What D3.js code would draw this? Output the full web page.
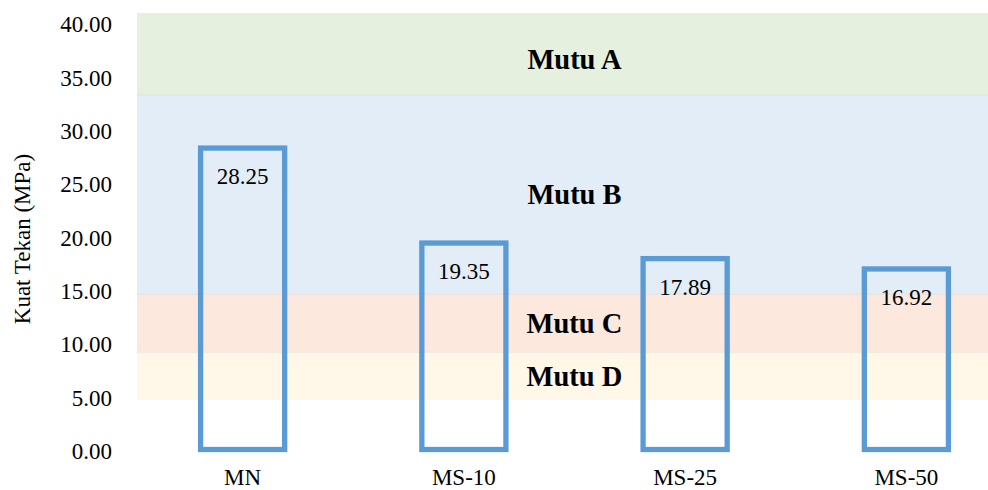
<!DOCTYPE html>
<html>
<head>
<meta charset="utf-8">
<script src="https://cdn.jsdelivr.net/npm/d3@7"></script>
<style>
  html, body { margin: 0; padding: 0; background: #fff; }
  svg { display: block; font-family: "Liberation Serif", "Times New Roman", serif; }
</style>
</head>
<body>
<svg id="chart" width="988" height="490"></svg>
<script>
// Compressive strength per mix
const categories = ["MN", "MS-10", "MS-25", "MS-50"];
const strength = [28.25, 19.35, 17.89, 16.92];

// Quality classes shown as horizontal background bands (MPa)
const gradeNames = ["Mutu D", "Mutu C", "Mutu B", "Mutu A"];
const gradeLow = [4.65, 9.1, 14.55, 33.25];
const gradeHigh = [9.1, 14.55, 33.25, 40.9];
const gradeColors = ["#fff7e7", "#fce8dd", "#e2edf7", "#e5f0df"];

const yTicks = [0, 5, 10, 15, 20, 25, 30, 35, 40];
const yTitle = "Kuat Tekan (MPa)";

const W = 988, H = 490;
const plotLeft = 137, plotRight = 988;

const svg = d3.select("#chart");

const y = d3.scaleLinear().domain([0, 40]).range([449.5, 22.7]);
const x = d3.scaleBand().domain(categories).range([132, 1017]).paddingInner(0.62).paddingOuter(0.31);

// Background bands
const bands = gradeNames.map((n, i) => ({ name: n, lo: gradeLow[i], hi: gradeHigh[i], color: gradeColors[i] }));

svg.append("g").selectAll("rect")
  .data(bands)
  .join("rect")
  .attr("x", plotLeft)
  .attr("width", plotRight - plotLeft)
  .attr("y", d => y(d.hi))
  .attr("height", d => y(d.lo) - y(d.hi))
  .attr("fill", d => d.color);

// faint separators between the bands
svg.append("g").selectAll("line")
  .data(bands.filter(d => d.name !== "Mutu A"))
  .join("line")
  .attr("x1", plotLeft).attr("x2", plotRight)
  .attr("y1", d => y(d.hi)).attr("y2", d => y(d.hi))
  .attr("stroke", "#000").attr("stroke-opacity", 0.035).attr("stroke-width", 1.5);

// Band labels at the middle of each band
const midX = (x.range()[0] + x.range()[1]) / 2;
svg.append("g").selectAll("text")
  .data(bands)
  .join("text")
  .attr("x", midX)
  .attr("y", d => (y(d.lo) + y(Math.min(d.hi, 40))) / 2)
  .attr("dy", "0.35em")
  .attr("text-anchor", "middle")
  .attr("font-weight", "bold")
  .attr("font-size", 28.5)
  .attr("fill", "#000")
  .text(d => d.name);

// Y axis (labels only)
const yAxis = d3.axisLeft(y).tickValues(yTicks).tickFormat(d3.format(".2f")).tickSize(0).tickPadding(0);
const gy = svg.append("g").attr("transform", "translate(112,0)").call(yAxis);
gy.select(".domain").remove();
gy.selectAll("text")
  .attr("font-family", "Liberation Serif, Times New Roman, serif")
  .attr("font-size", 23)
  .attr("fill", "#000")
  .attr("dy", null)
  .attr("dominant-baseline", "auto")
  .attr("transform", "translate(0,9)");

// Y title
svg.append("text")
  .attr("transform", "translate(29.5,239) rotate(-90)")
  .attr("text-anchor", "middle")
  .attr("font-size", 23)
  .attr("fill", "#000")
  .text(yTitle);

// X axis (labels only)
const xAxis = d3.axisBottom(x).tickSize(0).tickPadding(0);
const gx = svg.append("g").attr("transform", `translate(0,${y(0)})`).call(xAxis);
gx.select(".domain").remove();
gx.selectAll("text")
  .attr("font-family", "Liberation Serif, Times New Roman, serif")
  .attr("font-size", 23)
  .attr("fill", "#000")
  .attr("dy", null)
  .attr("y", 35.5);

// Outlined bars
const data = categories.map((c, i) => ({ cat: c, v: strength[i] }));
svg.append("g").selectAll("rect")
  .data(data)
  .join("rect")
  .attr("x", d => x(d.cat))
  .attr("width", x.bandwidth())
  .attr("y", d => y(d.v))
  .attr("height", d => y(0) - y(d.v))
  .attr("fill", "none")
  .attr("stroke", "#5b9bd5")
  .attr("stroke-width", 5.3);

// Value labels inside the top of each bar
svg.append("g").selectAll("text")
  .data(data)
  .join("text")
  .attr("x", d => x(d.cat) + x.bandwidth() / 2)
  .attr("y", d => y(d.v) + 36)
  .attr("text-anchor", "middle")
  .attr("font-size", 23)
  .attr("fill", "#000")
  .text(d => d.v.toFixed(2));
</script>
</body>
</html>
